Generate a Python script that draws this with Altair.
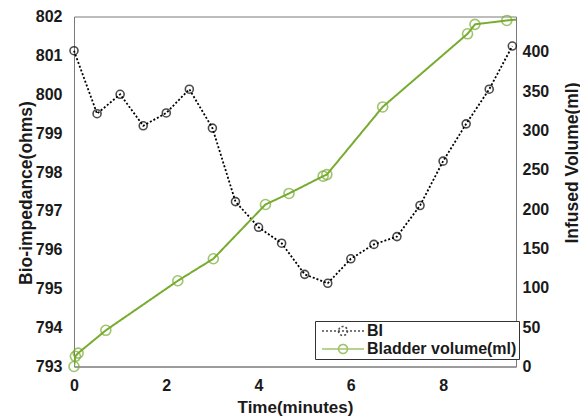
import altair as alt
import pandas as pd

# Bio-impedance readings, sampled every half minute
bi_time = [0, 0.5, 1.0, 1.5, 2.0, 2.5, 3.0, 3.5, 4.0, 4.5,
           5.0, 5.5, 6.0, 6.5, 7.0, 7.5, 8.0, 8.5, 9.0, 9.5]
bi_ohms = [801.12, 799.50, 800.00, 799.19, 799.52, 800.13, 799.13, 797.24, 796.58, 796.17,
           795.37, 795.14, 795.77, 796.14, 796.34, 797.14, 798.28, 799.24, 800.13, 801.24]

# Infused bladder volume (ml) at the recorded times
vol_time = [0.0, 0.03, 0.09, 0.69, 2.25, 3.02, 4.15, 4.66, 5.40, 5.48, 6.69, 8.53, 8.69, 9.38, 9.80]
vol_ml = [0, 13, 17, 46, 109, 137, 206, 220, 242, 244, 330, 423, 435, 440, 442]

series_names = ["BI", "Bladder volume(ml)"]
series_colors = ["#000000", "#77ac30"]
x_ticks = [0, 2, 4, 6, 8]
left_ticks = list(range(793, 803))
right_ticks = list(range(0, 401, 50))

bi_df = pd.DataFrame({"t": bi_time, "v": bi_ohms, "series": series_names[0]})
vol_df = pd.DataFrame({"t": vol_time, "v": vol_ml, "series": series_names[1]})
vol_pts_df = vol_df[vol_df["t"] <= 9.58]

FONT = "Liberation Sans"
TXT = "#1a1a1a"
AX = "#7a7a7a"

x_enc = alt.X(
    "t:Q",
    scale=alt.Scale(domain=[0, 9.58], nice=False, zero=False),
    axis=alt.Axis(values=x_ticks, format="d", ticks=False, grid=False, labelFlush=False,
                  labelPadding=11, labelFontSize=16, labelFontWeight="bold", labelColor=TXT,
                  title="Time(minutes)", titleFontSize=17, titleFontWeight="bold",
                  titleColor=TXT, titleX=221, titleY=41, titleBaseline="middle",
                  titleAlign="center", domainColor=AX),
)

legend_symbol = ("M-0.43,0L5.57,0M1.93,0A0.64,0.64 0 1,0 3.21,0"
                 "A0.64,0.64 0 1,0 1.93,0")
legend = alt.Legend(orient="none", legendX=241, legendY=304.5, title=None,
                    symbolType=legend_symbol, symbolSize=196, symbolStrokeWidth=1.6,
                    symbolFillColor="transparent", labelOffset=34, labelFontSize=16,
                    labelFontWeight="bold", labelColor=TXT, padding=2, rowPadding=2,
                    strokeColor="#333333", fillColor="white", labelLimit=300)

color_enc = alt.Color("series:N", scale=alt.Scale(domain=series_names, range=series_colors),
                      legend=legend)
dash_enc = alt.StrokeDash("series:N",
                          scale=alt.Scale(domain=series_names, range=[[2, 2], [1, 0]]),
                          legend=legend)

left_y = alt.Y(
    "v:Q",
    scale=alt.Scale(domain=[793, 802], nice=False, zero=False),
    axis=alt.Axis(values=left_ticks, format="d", ticks=False, grid=False, labelFlush=False,
                  labelPadding=12, labelFontSize=16, labelFontWeight="bold", labelColor=TXT,
                  title="Bio-impedance(ohms)", titleFontSize=17.5, titleFontWeight="bold",
                  titleColor=TXT, titleAngle=270, titleX=-48, titleY=176,
                  titleAlign="center", titleBaseline="middle", domainColor=AX),
)

right_y = alt.Y(
    "v:Q",
    scale=alt.Scale(domain=[0, 445], nice=False),
    axis=alt.Axis(orient="right", values=right_ticks, format="d", ticks=False, grid=False,
                  labelFlush=False, labelPadding=6, labelFontSize=16, labelFontWeight="bold",
                  labelColor=TXT, title="Infused Volume(ml)", titleFontSize=17.5,
                  titleFontWeight="bold", titleColor=TXT, titleAngle=270, titleX=56,
                  titleY=146, titleAlign="center", titleBaseline="middle", domainColor=AX),
)

bi_line = alt.Chart(bi_df).mark_line(strokeWidth=1.8).encode(
    x=x_enc, y=left_y, color=color_enc, strokeDash=dash_enc)
bi_pts = alt.Chart(bi_df).mark_point(shape="circle", filled=False, size=64, strokeWidth=1.6).encode(
    x=x_enc, y=left_y, color=color_enc)

vol_line = alt.Chart(vol_df).mark_line(strokeWidth=2, clip=True).encode(
    x=x_enc, y=right_y, color=color_enc, strokeDash=dash_enc)
vol_pts = alt.Chart(vol_pts_df).mark_point(shape="circle", filled=False, size=100, strokeWidth=1.6).encode(
    x=x_enc, y=right_y, color=color_enc)

chart = alt.layer(
    alt.layer(bi_line, bi_pts),
    alt.layer(vol_line, vol_pts),
).resolve_scale(y="independent").properties(
    width=442, height=350,
    autosize=alt.AutoSizeParams(type="none"),
    padding={"left": 74, "top": 16.5, "right": 64, "bottom": 51.5},
    background="white",
).configure(font=FONT).configure_view(stroke=AX, strokeWidth=1)

chart.save("out.html", embed_options={"renderer": "svg", "actions": False})
